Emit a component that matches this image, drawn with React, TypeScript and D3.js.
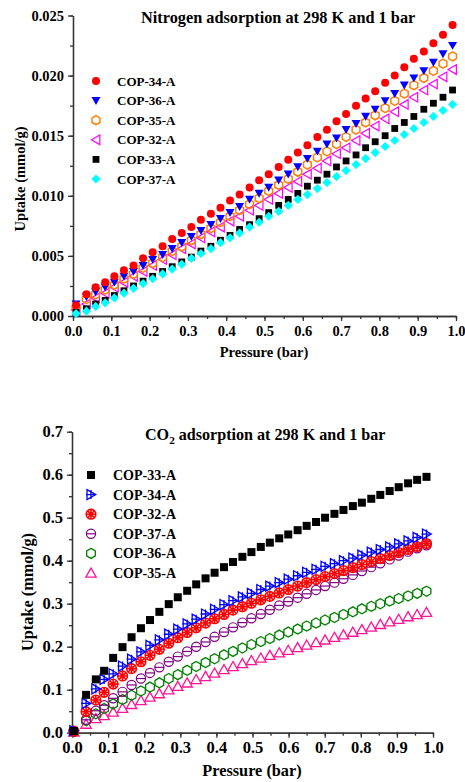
import React, { useEffect, useRef } from 'react';
import * as d3 from 'd3';

// ---- Nitrogen adsorption (top panel) ----
const N2_PRESSURE = [0.008, 0.035, 0.059, 0.084, 0.108, 0.133, 0.158, 0.183, 0.208, 0.234, 0.259, 0.284, 0.309, 0.334, 0.360, 0.385, 0.410, 0.435, 0.461, 0.486, 0.511, 0.537, 0.562, 0.587, 0.612, 0.638, 0.663, 0.688, 0.713, 0.739, 0.764, 0.789, 0.815, 0.840, 0.865, 0.890, 0.916, 0.941, 0.966, 0.991];
const N2_COP34 = [0.0009, 0.0018, 0.0024, 0.0028, 0.0033, 0.0038, 0.0042, 0.0048, 0.0053, 0.0058, 0.0064, 0.0069, 0.0074, 0.0080, 0.0085, 0.0090, 0.0096, 0.0101, 0.0107, 0.0113, 0.0118, 0.0124, 0.0130, 0.0136, 0.0142, 0.0149, 0.0155, 0.0162, 0.0168, 0.0175, 0.0181, 0.0187, 0.0194, 0.0200, 0.0207, 0.0214, 0.0220, 0.0227, 0.0234, 0.0242];
const N2_COP36 = [0.0010, 0.0016, 0.0020, 0.0024, 0.0028, 0.0033, 0.0037, 0.0042, 0.0047, 0.0051, 0.0056, 0.0061, 0.0066, 0.0071, 0.0076, 0.0081, 0.0086, 0.0091, 0.0097, 0.0102, 0.0107, 0.0113, 0.0118, 0.0124, 0.0131, 0.0137, 0.0143, 0.0148, 0.0155, 0.0160, 0.0166, 0.0172, 0.0179, 0.0185, 0.0192, 0.0198, 0.0204, 0.0211, 0.0218, 0.0225];
const N2_COP35 = [0.0007, 0.0014, 0.0018, 0.0022, 0.0026, 0.0031, 0.0035, 0.0040, 0.0044, 0.0049, 0.0054, 0.0058, 0.0063, 0.0068, 0.0073, 0.0078, 0.0083, 0.0088, 0.0093, 0.0098, 0.0104, 0.0109, 0.0114, 0.0120, 0.0126, 0.0132, 0.0137, 0.0143, 0.0149, 0.0155, 0.0161, 0.0167, 0.0173, 0.0179, 0.0185, 0.0192, 0.0198, 0.0204, 0.0210, 0.0216];
const N2_COP32 = [0.0005, 0.0010, 0.0015, 0.0019, 0.0024, 0.0028, 0.0033, 0.0037, 0.0042, 0.0047, 0.0051, 0.0056, 0.0060, 0.0065, 0.0070, 0.0074, 0.0079, 0.0083, 0.0088, 0.0092, 0.0097, 0.0102, 0.0107, 0.0112, 0.0118, 0.0123, 0.0129, 0.0135, 0.0140, 0.0146, 0.0152, 0.0158, 0.0164, 0.0170, 0.0176, 0.0182, 0.0188, 0.0193, 0.0199, 0.0205];
const N2_COP33 = [0.0003, 0.0006, 0.0010, 0.0013, 0.0017, 0.0021, 0.0025, 0.0029, 0.0033, 0.0037, 0.0041, 0.0045, 0.0049, 0.0054, 0.0058, 0.0063, 0.0067, 0.0072, 0.0076, 0.0081, 0.0086, 0.0092, 0.0097, 0.0102, 0.0108, 0.0113, 0.0118, 0.0124, 0.0129, 0.0134, 0.0140, 0.0145, 0.0150, 0.0156, 0.0161, 0.0166, 0.0172, 0.0177, 0.0182, 0.0188];
const N2_COP37 = [0.0002, 0.0004, 0.0008, 0.0011, 0.0015, 0.0019, 0.0023, 0.0027, 0.0031, 0.0035, 0.0039, 0.0043, 0.0048, 0.0052, 0.0056, 0.0061, 0.0065, 0.0069, 0.0074, 0.0078, 0.0083, 0.0087, 0.0092, 0.0097, 0.0101, 0.0106, 0.0111, 0.0116, 0.0121, 0.0126, 0.0131, 0.0136, 0.0141, 0.0146, 0.0151, 0.0156, 0.0161, 0.0166, 0.0171, 0.0176];

// ---- CO2 adsorption (bottom panel) ----
const CO2_PRESSURE = [0.005, 0.039, 0.066, 0.089, 0.114, 0.140, 0.165, 0.191, 0.216, 0.242, 0.268, 0.293, 0.319, 0.344, 0.370, 0.395, 0.421, 0.446, 0.472, 0.497, 0.523, 0.548, 0.574, 0.599, 0.625, 0.650, 0.676, 0.701, 0.727, 0.752, 0.778, 0.803, 0.829, 0.854, 0.880, 0.905, 0.931, 0.956, 0.982];
const CO2_COP33 = [0.004, 0.088, 0.124, 0.144, 0.174, 0.199, 0.222, 0.243, 0.262, 0.281, 0.299, 0.315, 0.330, 0.345, 0.359, 0.372, 0.385, 0.397, 0.409, 0.420, 0.432, 0.442, 0.452, 0.461, 0.471, 0.481, 0.490, 0.500, 0.509, 0.518, 0.527, 0.535, 0.544, 0.553, 0.562, 0.571, 0.580, 0.588, 0.595];
const CO2_COP34 = [0.005, 0.068, 0.102, 0.124, 0.137, 0.155, 0.171, 0.188, 0.203, 0.216, 0.229, 0.241, 0.253, 0.264, 0.276, 0.287, 0.298, 0.307, 0.316, 0.324, 0.333, 0.341, 0.349, 0.357, 0.365, 0.373, 0.380, 0.387, 0.393, 0.400, 0.406, 0.413, 0.420, 0.426, 0.432, 0.439, 0.446, 0.454, 0.462];
const CO2_COP32 = [0.004, 0.049, 0.076, 0.094, 0.113, 0.132, 0.149, 0.165, 0.180, 0.194, 0.208, 0.221, 0.233, 0.244, 0.255, 0.265, 0.275, 0.285, 0.293, 0.301, 0.309, 0.317, 0.325, 0.333, 0.341, 0.349, 0.356, 0.363, 0.370, 0.377, 0.384, 0.391, 0.398, 0.405, 0.412, 0.419, 0.426, 0.433, 0.440];
const CO2_COP37 = [0.003, 0.030, 0.051, 0.064, 0.080, 0.095, 0.111, 0.126, 0.139, 0.152, 0.165, 0.177, 0.189, 0.200, 0.211, 0.223, 0.234, 0.245, 0.256, 0.266, 0.276, 0.286, 0.296, 0.305, 0.314, 0.323, 0.332, 0.341, 0.349, 0.358, 0.367, 0.376, 0.385, 0.394, 0.403, 0.412, 0.421, 0.429, 0.436];
const CO2_COP36 = [0.002, 0.028, 0.044, 0.056, 0.067, 0.077, 0.087, 0.097, 0.106, 0.116, 0.126, 0.135, 0.145, 0.154, 0.163, 0.172, 0.181, 0.189, 0.197, 0.205, 0.212, 0.219, 0.227, 0.234, 0.241, 0.248, 0.255, 0.262, 0.268, 0.275, 0.281, 0.288, 0.294, 0.300, 0.306, 0.312, 0.318, 0.324, 0.329];
const CO2_COP35 = [0.002, 0.020, 0.033, 0.040, 0.048, 0.057, 0.066, 0.075, 0.083, 0.091, 0.100, 0.108, 0.116, 0.124, 0.131, 0.139, 0.147, 0.154, 0.161, 0.168, 0.174, 0.180, 0.186, 0.192, 0.198, 0.204, 0.210, 0.216, 0.222, 0.228, 0.234, 0.240, 0.246, 0.252, 0.258, 0.264, 0.270, 0.275, 0.280];

const X_TICKS = [0, 0.1, 0.2, 0.3, 0.4, 0.5, 0.6, 0.7, 0.8, 0.9, 1.0];
const N2_Y_TICKS = [0, 0.005, 0.01, 0.015, 0.02, 0.025];
const CO2_Y_TICKS = [0, 0.1, 0.2, 0.3, 0.4, 0.5, 0.6, 0.7];

const FONT = "'Liberation Serif', 'Times New Roman', serif";
const AXIS_COLOR = '#333';

// marker outline centred at 0,0
function markerPath(shape: string, r: number): string {
  const p = d3.path();
  const poly = (pts: number[][]) => {
    p.moveTo(pts[0][0], pts[0][1]);
    pts.slice(1).forEach(q => p.lineTo(q[0], q[1]));
    p.closePath();
  };
  if (shape === 'circle') {
    p.arc(0, 0, r, 0, Math.PI * 2);
  } else if (shape === 'square') {
    p.rect(-r, -r, 2 * r, 2 * r);
  } else if (shape === 'diamond') {
    poly([[0, -r], [r, 0], [0, r], [-r, 0]]);
  } else if (shape === 'triDown') {
    poly([[-r, -r * 0.8], [r, -r * 0.8], [0, r * 0.95]]);
  } else if (shape === 'triUp') {
    poly([[-r, r * 0.8], [r, r * 0.8], [0, -r * 0.95]]);
  } else if (shape === 'triLeft') {
    poly([[r * 0.8, -r], [r * 0.8, r], [-r * 0.95, 0]]);
  } else if (shape === 'triRight') {
    poly([[-r * 0.8, -r], [-r * 0.8, r], [r * 0.95, 0]]);
  } else if (shape === 'hex') {
    poly(d3.range(6).map(k => {
      const a = -Math.PI / 2 + k * Math.PI / 3;
      return [r * Math.cos(a), r * Math.sin(a)];
    }));
  }
  return p.toString();
}

// inner decorations for the open CO2 markers
function decoPath(deco: string, r: number): string {
  const p = d3.path();
  if (deco === 'plus') {
    p.moveTo(-r, 0); p.lineTo(r * 0.9, 0);
    p.moveTo(0, -r * 0.9); p.lineTo(0, r * 0.9);
  } else if (deco === 'hline') {
    p.moveTo(-r, 0); p.lineTo(r, 0);
  } else if (deco === 'hatch') {
    const d = r * 0.7;
    p.moveTo(-d, -d); p.lineTo(d, d);
    p.moveTo(-d, d); p.lineTo(d, -d);
    p.moveTo(-r, 0); p.lineTo(r, 0);
    p.moveTo(0, -r); p.lineTo(0, r);
  }
  return p.toString();
}

type Series = {
  name: string; values: number[]; shape: string; color: string;
  filled: boolean; r: number; sw?: number; deco?: string;
};

const n2Legend: Series[] = [
  { name: 'COP-34-A', values: N2_COP34, shape: 'circle', color: '#ff0000', filled: true, r: 4 },
  { name: 'COP-36-A', values: N2_COP36, shape: 'triDown', color: '#0000ff', filled: true, r: 4.5 },
  { name: 'COP-35-A', values: N2_COP35, shape: 'hex', color: '#ff7f00', filled: false, r: 4.5, sw: 1.5 },
  { name: 'COP-32-A', values: N2_COP32, shape: 'triLeft', color: '#ff00ff', filled: false, r: 4.8, sw: 1.2 },
  { name: 'COP-33-A', values: N2_COP33, shape: 'square', color: '#000000', filled: true, r: 3.4 },
  { name: 'COP-37-A', values: N2_COP37, shape: 'diamond', color: '#00ffff', filled: true, r: 4.6 },
];
const n2DrawOrder = ['COP-32-A', 'COP-35-A', 'COP-36-A', 'COP-34-A', 'COP-33-A', 'COP-37-A'];

const co2Legend: Series[] = [
  { name: 'COP-33-A', values: CO2_COP33, shape: 'square', color: '#000000', filled: true, r: 4 },
  { name: 'COP-34-A', values: CO2_COP34, shape: 'triRight', color: '#0000ff', filled: false, r: 5, sw: 1.3, deco: 'plus' },
  { name: 'COP-32-A', values: CO2_COP32, shape: 'circle', color: '#ff0000', filled: false, r: 4.8, sw: 1.6, deco: 'hatch' },
  { name: 'COP-37-A', values: CO2_COP37, shape: 'circle', color: '#800080', filled: false, r: 4.6, sw: 1.2, deco: 'hline' },
  { name: 'COP-36-A', values: CO2_COP36, shape: 'hex', color: '#008000', filled: false, r: 5, sw: 1.3 },
  { name: 'COP-35-A', values: CO2_COP35, shape: 'triUp', color: '#ff1493', filled: false, r: 5.2, sw: 1.3 },
];
const co2DrawOrder = ['COP-35-A', 'COP-36-A', 'COP-37-A', 'COP-32-A', 'COP-34-A', 'COP-33-A'];

function drawMarker(g: any, s: Series, x: number, y: number) {
  g.append('path')
    .attr('transform', `translate(${x},${y})`)
    .attr('d', markerPath(s.shape, s.r))
    .attr('fill', s.filled ? s.color : 'none')
    .attr('stroke', s.filled ? 'none' : s.color)
    .attr('stroke-width', s.sw || 1);
  if (s.deco) {
    g.append('path')
      .attr('transform', `translate(${x},${y})`)
      .attr('d', decoPath(s.deco, s.r))
      .attr('fill', 'none')
      .attr('stroke', s.color)
      .attr('stroke-width', s.sw || 1);
  }
}

function drawPanel(svg: any, cfg: any) {
  const x = d3.scaleLinear().domain([0, 1]).range(cfg.xRange);
  const y = d3.scaleLinear().domain(cfg.yDomain).range(cfg.yRange);
  const g = svg.append('g');

  // axes: major + minor ticks, outward
  const styleAxis = (a: any, fs: number) => {
    a.attr('color', AXIS_COLOR)
      .attr('font-family', FONT).attr('font-weight', 'bold').attr('font-size', fs);
    a.selectAll('path,line').attr('stroke-width', 1.3);
    a.selectAll('text').attr('fill', '#000').attr('font-family', FONT).attr('font-weight', 'bold');
  };
  const yMinor = d3.range(cfg.yDomain[0], cfg.yDomain[1] + 1e-9, cfg.yMinorStep);
  const xMinor = d3.range(0, 1.0001, 0.05);

  const ym = g.append('g').attr('transform', `translate(${cfg.xRange[0]},0)`)
    .call(d3.axisLeft(y).tickValues(yMinor).tickSize(3).tickSizeOuter(0).tickFormat(() => ''));
  styleAxis(ym, cfg.fs);
  const ya = g.append('g').attr('transform', `translate(${cfg.xRange[0]},0)`)
    .call(d3.axisLeft(y).tickValues(cfg.yTicks).tickSize(5).tickSizeOuter(0).tickPadding(4).tickFormat(d3.format(cfg.yFmt)));
  styleAxis(ya, cfg.fs);
  const xm = g.append('g').attr('transform', `translate(0,${cfg.yRange[0]})`)
    .call(d3.axisBottom(x).tickValues(xMinor).tickSize(3).tickSizeOuter(0).tickFormat(() => ''));
  styleAxis(xm, cfg.fs);
  const xa = g.append('g').attr('transform', `translate(0,${cfg.yRange[0]})`)
    .call(d3.axisBottom(x).tickValues(X_TICKS).tickSize(5).tickSizeOuter(0).tickPadding(cfg.xPad).tickFormat(d3.format('.1f')));
  styleAxis(xa, cfg.fs);

  // data markers
  cfg.drawOrder.forEach((name: string) => {
    const s = cfg.legend.find((d: Series) => d.name === name);
    s.values.forEach((v: number, i: number) => drawMarker(g, s, x(cfg.pressure[i]), y(v)));
  });

  // legend
  cfg.legend.forEach((s: Series, i: number) => {
    const ly = cfg.legendY + i * cfg.legendDy;
    drawMarker(g, s, cfg.legendX, ly);
    g.append('text').attr('x', cfg.legendTextX).attr('y', ly).attr('dy', '0.35em')
      .attr('font-family', FONT).attr('font-weight', 'bold').attr('font-size', cfg.legendFs)
      .text(s.name);
  });

  // title
  const t = g.append('text').attr('x', cfg.titleX).attr('y', cfg.titleY)
    .attr('font-family', FONT).attr('font-weight', 'bold').attr('font-size', cfg.titleFs);
  cfg.title.forEach((part: any) => {
    const ts = t.append('tspan').text(part.text);
    if (part.sub) ts.attr('font-size', cfg.titleFs * 0.7).attr('dy', 4);
    if (part.after) ts.attr('dy', -4);
  });

  // axis titles
  g.append('text').attr('x', cfg.xLabelX).attr('y', cfg.xLabelY)
    .attr('text-anchor', 'middle').attr('font-family', FONT).attr('font-weight', 'bold')
    .attr('font-size', cfg.labelFs).text('Pressure (bar)');
  g.append('text').attr('transform', `translate(${cfg.yLabelX},${cfg.yLabelY}) rotate(-90)`)
    .attr('text-anchor', 'middle').attr('font-family', FONT).attr('font-weight', 'bold')
    .attr('font-size', cfg.labelFs).text('Uptake (mmol/g)');
}

export default function App() {
  const svgRef = useRef<SVGSVGElement>(null);

  useEffect(() => {
    const svg = d3.select(svgRef.current);
    svg.selectAll('*').remove();

    drawPanel(svg, {
      xRange: [73, 456], yDomain: [0, 0.025], yRange: [316, 15.5],
      yTicks: N2_Y_TICKS, yMinorStep: 0.0025, yFmt: '.3f', fs: 14.5, xPad: 5,
      pressure: N2_PRESSURE, legend: n2Legend, drawOrder: n2DrawOrder,
      legendX: 96, legendY: 81, legendDy: 19.6, legendTextX: 117, legendFs: 13,
      title: [{ text: 'Nitrogen adsorption at 298 K and 1 bar' }],
      titleX: 141, titleY: 22.5, titleFs: 16.3,
      xLabelX: 264, xLabelY: 357, yLabelX: 25, yLabelY: 179, labelFs: 14.5,
    });

    drawPanel(svg, {
      xRange: [72, 433], yDomain: [0, 0.7], yRange: [732.7, 431.7],
      yTicks: CO2_Y_TICKS, yMinorStep: 0.05, yFmt: '.1f', fs: 16.5, xPad: 4,
      pressure: CO2_PRESSURE, legend: co2Legend, drawOrder: co2DrawOrder,
      legendX: 91, legendY: 475, legendDy: 19.6, legendTextX: 113, legendFs: 14,
      title: [{ text: 'CO' }, { text: '2', sub: true }, { text: ' adsorption at 298 K and 1 bar', after: true }],
      titleX: 145, titleY: 440, titleFs: 16.1,
      xLabelX: 252, xLabelY: 776, yLabelX: 33, yLabelY: 592, labelFs: 16.3,
    });
  }, []);

  return (
    <svg ref={svgRef} width={465} height={782}
      style={{ position: 'absolute', left: 0, top: 0, background: '#fff' }} />
  );
}
